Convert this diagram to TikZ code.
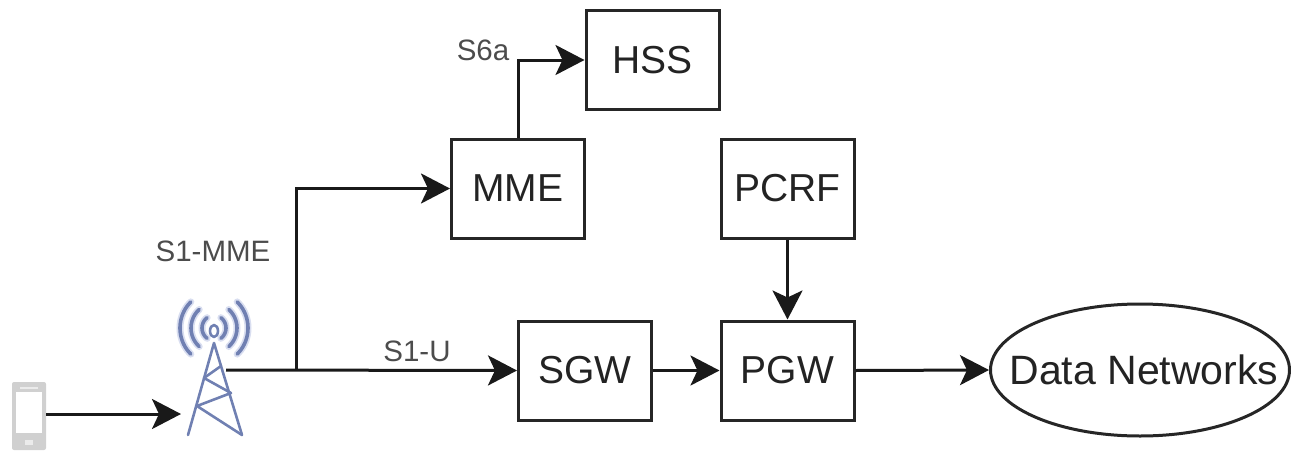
\documentclass[tikz,border=0pt]{standalone}
\usepackage{fontspec}
\setmainfont{Liberation Sans}
\usetikzlibrary{arrows.meta,shapes.geometric}
\definecolor{towerblue}{RGB}{112,128,178}
\definecolor{wavepale}{RGB}{170,182,222}
\definecolor{phonegray}{RGB}{208,208,208}
\definecolor{inktext}{RGB}{35,35,35}
\tikzset{
  x=1pt,y=-1pt,
  boxnode/.style={draw=black!85,line width=3pt,minimum width=133pt,minimum height=99pt,inner sep=0pt,font=\fontsize{39}{39}\selectfont,text=inktext},
  labelnode/.style={font=\fontsize{29.5}{30}\selectfont,text=black!70,inner sep=0pt},
  link/.style={draw=black!90,line width=3pt,-{Stealth[length=29pt,width=30pt,inset=7pt]}},
  tower/.style={draw=towerblue,line width=2.6pt,line cap=round,line join=round},
  wave/.style={draw=towerblue,line width=3.6pt,line cap=round},
  wavehalo/.style={draw=wavepale,line width=7pt,line cap=round}
}
\begin{document}
\begin{tikzpicture}
\useasboundingbox (0,0) rectangle (1291,450);
\node[boxnode] (hss) at (652.5,60) {HSS};
\node[boxnode] (mme) at (518,188.5) {MME};
\node[boxnode] (pcrf) at (787.5,188.5) {PCRF};
\node[boxnode] (sgw) at (585,370.5) {SGW};
\node[boxnode] (pgw) at (787.5,370.5) {PGW};
\node[draw=black!85,line width=3pt,ellipse,minimum width=299pt,minimum height=132pt,inner xsep=-36pt,inner ysep=0pt,font=\fontsize{41}{41}\selectfont,text=inktext] (data) at (1140,370) {\hspace*{8pt}Data Networks};
% phone
\node[draw=none,fill=phonegray,rounded corners=2pt,minimum width=34pt,minimum height=68pt,inner sep=0pt] (phone) at (29,416) {};
\fill[white] (16,392) rectangle (42,433);
\fill[white!92!black] (20,387) rectangle (38,389);
\fill[white!92!black] (25,440) rectangle (33,445);
% tower
\coordinate (apex) at (214,343);
\coordinate (towerin) at (181,414);
\coordinate (towerout) at (226,370);
\coordinate (branch) at (296,370);
\draw[tower] (188,435) -- (apex) -- (242,435);
\draw[tower] (204,378) -- (221,366) (204,378) -- (231,393) -- (197,406) -- (242,435);
% antenna
\foreach \r/\a in {12/55,23/50,34/47}{
  \draw[wavehalo,draw opacity=.45] plot[domain=-\a:\a,smooth,samples=13] ({214+\r*cos(\x)},{328+1.05*\r*sin(\x)});
  \draw[wavehalo,draw opacity=.45] plot[domain=-\a:\a,smooth,samples=13] ({214-\r*cos(\x)},{328+1.05*\r*sin(\x)});
  \draw[wave] plot[domain=-\a:\a,smooth,samples=13] ({214+\r*cos(\x)},{328+1.05*\r*sin(\x)});
  \draw[wave] plot[domain=-\a:\a,smooth,samples=13] ({214-\r*cos(\x)},{328+1.05*\r*sin(\x)});
}
\draw[tower] (214,331) ellipse[x radius=4,y radius=6];
% connectors
\draw[link] (phone.east |- towerin) -- (towerin);
\draw[link] (towerout) -- (sgw.west);
\draw[link] (branch) |- (mme.west);
\draw[link] (mme.north) |- (hss.west);
\draw[link] (sgw.east) -- (pgw.west);
\draw[link] (pcrf.south) -- (pgw.north);
\draw[link] (pgw.east) -- (data.west);
% labels
\node[labelnode] (s6a) at (483,50) {S6a};
\node[labelnode] (s1mme) at (213,251) {S1-MME};
\node[labelnode] (s1u) at (417,351) {S1-U};
\end{tikzpicture}
\end{document}
